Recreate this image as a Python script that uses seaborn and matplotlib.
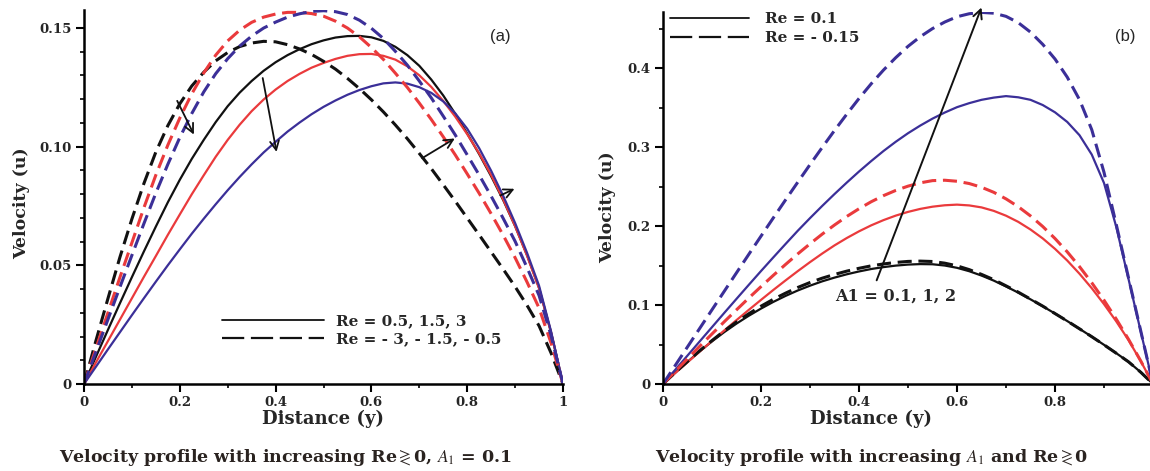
import matplotlib
matplotlib.use("Agg")
import matplotlib.pyplot as plt
from matplotlib.lines import Line2D
from matplotlib.ticker import MultipleLocator
import pandas as pd
import seaborn as sns

# ---------------- data ----------------
distance = [0.000, 0.025, 0.050, 0.075, 0.100, 0.125, 0.150, 0.175, 0.200, 0.225,
            0.250, 0.275, 0.300, 0.325, 0.350, 0.375, 0.400, 0.425, 0.450, 0.475,
            0.500, 0.525, 0.550, 0.575, 0.600, 0.625, 0.650, 0.675, 0.700, 0.725,
            0.750, 0.775, 0.800, 0.825, 0.850, 0.875, 0.900, 0.925, 0.950, 0.975, 1.000]

# panel (a): A1 = 0.1, Re >= 0 (solid)
u_re_0p5 = [0, .0115, .0228, .0340, .0450, .0558, .0663, .0765, .0860, .0948,
            .1028, .1103, .1170, .1227, .1276, .1319, .1355, .1385, .1410, .1431,
            .1447, .1459, .1465, .1466, .1460, .1445, .1420, .1385, .1340, .1282,
            .1215, .1138, .1055, .0968, .0875, .0775, .0665, .0542, .0405, .0218, 0]
u_re_1p5 = [0, .0091, .0181, .0271, .0361, .0451, .0539, .0628, .0714, .0799,
            .0879, .0957, .1028, .1092, .1149, .1198, .1240, .1276, .1306, .1332,
            .1352, .1369, .1382, .1389, .1390, .1382, .1366, .1338, .1300, .1251,
            .1192, .1126, .1052, .0971, .0880, .0778, .0665, .0540, .0403, .0217, 0]
u_re_3 = [0, .0073, .0146, .0218, .0290, .0361, .0431, .0500, .0567, .0633,
          .0696, .0757, .0816, .0872, .0925, .0975, .1020, .1063, .1101, .1136,
          .1167, .1194, .1218, .1238, .1254, .1266, .1270, .1265, .1250, .1226,
          .1190, .1140, .1075, .0993, .0898, .0793, .0678, .0552, .0414, .0222, 0]
# panel (a): Re < 0 (dashed)
u_re_m3 = [0, .0183, .0360, .0534, .0695, .0844, .0977, .1088, .1180, .1255,
           .1313, .1361, .1396, .1421, .1436, .1443, .1441, .1429, .1411, .1388,
           .1359, .1326, .1287, .1244, .1197, .1146, .1091, .1033, .0971, .0907,
           .0839, .0770, .0699, .0628, .0556, .0484, .0410, .0331, .0245, .0131, 0]
u_re_m1p5 = [0, .0151, .0300, .0449, .0595, .0742, .0880, .1006, .1120, .1222,
             .1310, .1385, .1445, .1490, .1523, .1545, .1558, .1565, .1565, .1560,
             .1549, .1528, .1499, .1462, .1417, .1367, .1309, .1249, .1183, .1114,
             .1041, .0965, .0885, .0803, .0717, .0627, .0532, .0429, .0320, .0173, 0]
u_re_m0p5 = [0, .0136, .0272, .0408, .0542, .0675, .0804, .0925, .1038, .1139,
             .1230, .1307, .1370, .1423, .1465, .1499, .1524, .1545, .1559, .1569,
             .1572, .1568, .1556, .1532, .1498, .1455, .1401, .1343, .1276, .1205,
             .1128, .1049, .0965, .0880, .0791, .0698, .0601, .0490, .0373, .0205, 0]

# panel (b): Re = 0.1 (solid) / Re = -0.15 (dashed) for A1 = 0.1, 1, 2
u_a01_pos = [0, .0143, .0280, .0414, .0540, .0657, .0765, .0864, .0955, .1039,
             .1115, .1184, .1245, .1300, .1347, .1389, .1425, .1456, .1480, .1499,
             .1512, .1518, .1516, .1500, .1471, .1428, .1373, .1309, .1235, .1157,
             .1072, .0984, .0892, .0797, .0699, .0599, .0496, .0390, .0281, .0149, 0]
u_a01_neg = [0, .0146, .0285, .0422, .0550, .0672, .0785, .0889, .0985, .1072,
             .1150, .1222, .1285, .1340, .1387, .1429, .1465, .1496, .1520, .1539,
             .1552, .1556, .1551, .1530, .1496, .1448, .1388, .1321, .1243, .1163,
             .1075, .0986, .0892, .0797, .0699, .0599, .0496, .0390, .0281, .0149, 0]
u_a1_pos = [0, .0139, .0275, .0411, .0545, .0678, .0809, .0938, .1065, .1190,
            .1311, .1429, .1543, .1652, .1755, .1848, .1933, .2009, .2075, .2132,
            .2179, .2217, .2245, .2263, .2271, .2261, .2236, .2192, .2131, .2053,
            .1956, .1843, .1711, .1563, .1396, .1213, .1011, .0793, .0556, .0289, 0]
u_a1_neg = [0, .0160, .0320, .0478, .0634, .0788, .0939, .1088, .1233, .1375,
            .1513, .1647, .1775, .1898, .2013, .2121, .2219, .2308, .2385, .2451,
            .2505, .2547, .2575, .2580, .2567, .2538, .2491, .2427, .2344, .2245,
            .2128, .1994, .1842, .1673, .1486, .1282, .1061, .0822, .0566, .0292, 0]
u_a2_pos = [0, .0180, .0360, .0540, .0720, .0900, .1078, .1255, .1430, .1602,
            .1772, .1940, .2100, .2255, .2405, .2550, .2690, .2823, .2950, .3067,
            .3175, .3272, .3360, .3437, .3505, .3556, .3598, .3626, .3645, .3630,
            .3598, .3532, .3440, .3318, .3150, .2905, .2545, .1990, .1330, .0665, 0]
u_a2_neg = [0, .0235, .0470, .0705, .0940, .1174, .1408, .1641, .1872, .2102,
            .2330, .2555, .2778, .2996, .3210, .3416, .3615, .3802, .3975, .4132,
            .4275, .4397, .4500, .4583, .4650, .4688, .4705, .4695, .4655, .4575,
            .4455, .4300, .4115, .3885, .3600, .3220, .2680, .2020, .1345, .0672, 0]

x_ticks = [0, 0.2, 0.4, 0.6, 0.8, 1.0]
x_tick_labels = ["0", "0.2", "0.4", "0.6", "0.8", "1"]
ya_ticks = [0, 0.05, 0.10, 0.15]
ya_tick_labels = ["0", "0.05", "0.10", "0.15"]
yb_ticks = [0, 0.1, 0.2, 0.3, 0.4]
yb_tick_labels = ["0", "0.1", "0.2", "0.3", "0.4"]

legend_a = ["Re = 0.5, 1.5, 3", "Re = - 3, - 1.5, - 0.5"]
legend_b = ["Re = 0.1", "Re = - 0.15"]

BLACK = "#111111"
RED = "#ea3a3c"
BLUE = "#3b2f98"


def long_frame(curves):
    rows = []
    for name, values in curves.items():
        for y, u in zip(distance, values):
            rows.append({"y": y, "u": u, "curve": name})
    return pd.DataFrame(rows)


# ---------------- style ----------------
sns.set_theme(style="white")
SERIF = ["DejaVu Serif"]
plt.rcParams["font.family"] = SERIF
plt.rcParams["mathtext.fontset"] = "stix"

fig = plt.figure(figsize=(11.5, 4.71), dpi=100)
W, H = 1150, 471
ax1 = fig.add_axes([84 / W, 1 - 384 / H, 479 / W, 374 / H])
ax2 = fig.add_axes([663 / W, 1 - 384 / H, 490 / W, 372 / H])

solid_lw = 1.6
dash_lw = 2.2
dash_pat = (4.6, 2.2)

# ---------------- panel (a) ----------------
df_a_solid = long_frame({"0.5": u_re_0p5, "1.5": u_re_1p5, "3": u_re_3})
df_a_dash = long_frame({"-3": u_re_m3, "-1.5": u_re_m1p5, "-0.5": u_re_m0p5})
sns.lineplot(data=df_a_solid, x="y", y="u", hue="curve",
             palette={"0.5": BLACK, "1.5": RED, "3": BLUE},
             linewidth=solid_lw, legend=False, ax=ax1)
sns.lineplot(data=df_a_dash, x="y", y="u", hue="curve",
             palette={"-3": BLACK, "-1.5": RED, "-0.5": BLUE},
             linewidth=dash_lw, linestyle=(0, dash_pat), legend=False, ax=ax1)

# ---------------- panel (b) ----------------
df_b_solid = long_frame({"0.1": u_a01_pos, "1": u_a1_pos, "2": u_a2_pos})
df_b_dash = long_frame({"0.1": u_a01_neg, "1": u_a1_neg, "2": u_a2_neg})
pal_b = {"0.1": BLACK, "1": RED, "2": BLUE}
sns.lineplot(data=df_b_solid, x="y", y="u", hue="curve", palette=pal_b,
             linewidth=solid_lw, legend=False, ax=ax2)
sns.lineplot(data=df_b_dash, x="y", y="u", hue="curve", palette=pal_b,
             linewidth=dash_lw, linestyle=(0, dash_pat), legend=False, ax=ax2)

tick_font = dict(family=SERIF, weight="bold", size=9.5)
label_font = dict(family=SERIF, weight="bold")

for ax, yt, ytl, ylim, ymin in ((ax1, ya_ticks, ya_tick_labels, 0.1575, 0.01),
                                 (ax2, yb_ticks, yb_tick_labels, 0.471, 0.05)):
    ax.set_xlim(0, 1)
    ax.set_ylim(0, ylim)
    ax.set_xticks(x_ticks)
    ax.set_xticklabels(x_tick_labels, **tick_font)
    ax.set_yticks(yt)
    ax.set_yticklabels(ytl, **tick_font)
    ax.xaxis.set_minor_locator(MultipleLocator(0.1))
    ax.yaxis.set_minor_locator(MultipleLocator(ymin))
    ax.tick_params(which="major", direction="out", length=6, width=1.5,
                   color="black", bottom=True, left=True, pad=3)
    ax.tick_params(which="minor", direction="out", length=3, width=1.2,
                   color="black", bottom=True, left=True)
    for side in ("top", "right"):
        ax.spines[side].set_visible(False)
    for side in ("left", "bottom"):
        ax.spines[side].set_color("black")
        ax.spines[side].set_linewidth(1.8)
    ax.set_facecolor("white")
    ax.set_xlabel("Distance (y)", fontsize=13, **label_font)
    ax.set_ylabel("Velocity (u)", fontsize=12.5, **label_font)
    ax.xaxis.label.set_va("center")
    ax.yaxis.label.set_va("center")

ax1.xaxis.set_label_coords(0.5, (384 - 419) / 374)
ax2.xaxis.set_label_coords((871 - 663) / 490, (384 - 419) / 372)
ax1.yaxis.set_label_coords((22 - 84) / 479, (384 - 203) / 374)
ax2.yaxis.set_label_coords((608 - 663) / 490, (384 - 207) / 372)

# legends
leg_font = {"family": "DejaVu Serif", "weight": "bold", "size": 11}
dash_handle = (0, (10, 3))
handles_a = [Line2D([], [], color=BLACK, lw=1.3),
             Line2D([], [], color=BLACK, lw=1.6, linestyle=dash_handle)]
ax1.legend(handles_a, legend_a, loc="upper left", frameon=False, prop=leg_font,
           bbox_to_anchor=((222 - 84) / 479, (384 - 314) / 374),
           handlelength=6.7, handletextpad=0.75, labelspacing=0.28, borderpad=0,
           borderaxespad=0)
handles_b = [Line2D([], [], color=BLACK, lw=1.3),
             Line2D([], [], color=BLACK, lw=1.6, linestyle=dash_handle)]
ax2.legend(handles_b, legend_b, loc="upper left", frameon=False, prop=leg_font,
           bbox_to_anchor=((670 - 663) / 490, (384 - 12) / 372),
           handlelength=5.2, handletextpad=1.0, labelspacing=0.34, borderpad=0,
           borderaxespad=0)

# trend arrows in panel (a)
arrow_kw = dict(arrowstyle="->", color=BLACK, lw=1.3, mutation_scale=16)
ax1.annotate("", xy=(0.232, 0.104), xytext=(0.192, 0.1203), arrowprops=arrow_kw)
ax1.annotate("", xy=(0.403, 0.0966), xytext=(0.372, 0.130), arrowprops=arrow_kw)
ax1.annotate("", xy=(0.779, 0.104), xytext=(0.701, 0.0945), arrowprops=arrow_kw)
ax1.annotate("", xy=(0.904, 0.0827), xytext=(0.864, 0.0789), arrowprops=arrow_kw)

# trend arrow in panel (b)
ax2.annotate("", xy=(0.652, 0.480), xytext=(0.434, 0.128),
             arrowprops=dict(arrowstyle="->", color=BLACK, lw=1.4, mutation_scale=16),
             annotation_clip=False)
ax2.text(0.351, 0.111, "A1 = 0.1, 1, 2", ha="left", va="center",
         fontsize=11.5, **label_font)

# panel tags
ax1.text((500 - 84) / 479, (384 - 36) / 374, "(a)", transform=ax1.transAxes,
         ha="center", va="center", fontsize=12, family="Liberation Sans")
ax2.text((1125 - 663) / 490, (384 - 36) / 372, "(b)", transform=ax2.transAxes,
         ha="center", va="center", fontsize=12, family="Liberation Sans")

# captions
cap_kw = dict(ha="center", va="center", fontsize=12.5, weight="bold",
              color="#2a2320", family=SERIF)
fig.text(285 / W, 1 - 457 / H,
         r"Velocity profile with increasing Re$\gtrless$0, $A_1$ = 0.1", **cap_kw)
fig.text(872 / W, 1 - 457 / H,
         r"Velocity profile with increasing $A_1$ and Re$\gtrless$0", **cap_kw)

fig.savefig("out.png", dpi=100, facecolor="white")
